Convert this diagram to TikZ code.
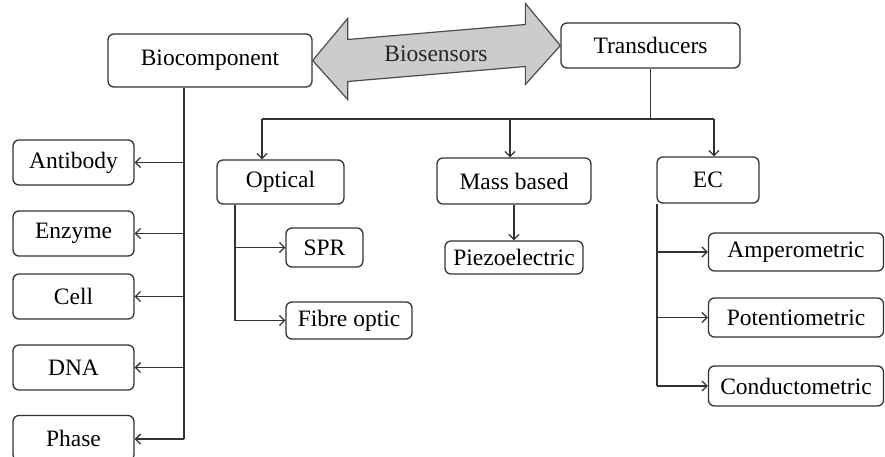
\documentclass[tikz,border=0pt]{standalone}
\usepackage{fontspec}
\setmainfont{Liberation Serif}
\newfontfamily\lserif{Liberation Serif}
\usetikzlibrary{arrows.meta,calc}
\begin{document}
\begin{tikzpicture}[x=1pt,y=-1pt,
  box/.style={draw=black!80, line width=1.3pt, rounded corners=6pt, inner sep=0pt,
    font=\lserif\fontsize{23.5}{26}\selectfont, text=black},
  conn/.style={draw=black!80, line width=1.3pt},
  arr/.style={conn, -{Straight Barb[length=5pt,width=10pt,line width=1.3pt]}}]
\useasboundingbox (0,0) rectangle (885,456);
% nodes
\node[box, minimum width=204, minimum height=53] (bio) at (210,60.5) {Biocomponent};
\node[box, minimum width=179, minimum height=45] (trans) at (650.5,45.5) {Transducers};
\node[box, minimum width=121, minimum height=45] (antibody) at (73.5,162.5) {Antibody};
\node[box, minimum width=121, minimum height=45] (enzyme) at (73.5,233.5) {Enzyme};
\node[box, minimum width=121, minimum height=45] (cell) at (73.5,296.5) {Cell};
\node[box, minimum width=121, minimum height=45] (dna) at (73.5,367.5) {DNA};
\node[box, minimum width=121, minimum height=45] (phase) at (73.5,438) {Phase};
\node[box, minimum width=127, minimum height=44] (opt) at (280.5,182) {Optical};
\node[box, minimum width=77, minimum height=39] (spr) at (324.5,247.5) {SPR};
\node[box, minimum width=126, minimum height=37] (fibre) at (349,320.5) {Fibre optic};
\node[box, minimum width=154, minimum height=46] (mass) at (514,181) {Mass based};
\node[box, minimum width=138, minimum height=33] (piezo) at (514,257.5) {Piezoelectric};
\node[box, minimum width=102, minimum height=46] (ec) at (708,180) {EC};
\node[box, minimum width=175, minimum height=38] (amp) at (796,252) {Amperometric};
\node[box, minimum width=175, minimum height=39] (pot) at (796,317.5) {Potentiometric};
\node[box, minimum width=175, minimum height=40] (cond) at (796,386) {Conductometric};
% double arrow
\filldraw[fill=black!20, draw=black!70, line width=1.2pt, line join=miter]
  (bio.east) -- ++(35,-42) -- ++(0,21) -- ($(trans.west)+(-35,-21)$) -- ++(0,-21)
  -- (trans.west) -- ++(-35,39) -- ++(0,-18) -- ($(bio.east)+(35,21)$) -- ++(0,18) -- cycle;
\node[font=\lserif\fontsize{23.5}{26}\selectfont, text=black!85] (bs) at (436,54) {Biosensors};
% biocomponent branch
\coordinate (bioTrunk) at (184,439);
\draw[conn] (bio.south -| bioTrunk) -- (bioTrunk);
\foreach \n in {antibody,enzyme,cell,dna}
  \draw[arr] (\n.east -| bioTrunk) -- (\n.east);
\draw[arr] (bioTrunk) -- (bioTrunk -| phase.east);
% transducer branch
\coordinate (busL) at (262,119);
\coordinate (busM) at (510,119);
\coordinate (busR) at (714,119);
\draw[conn] (trans.south) -- (trans.south |- busL);
\draw[conn] (busL) -- (busR);
\draw[arr] (busL) -- (busL |- opt.north);
\draw[arr] (busM) -- (busM |- mass.north);
\draw[arr] (busR) -- (busR |- ec.north);
\draw[arr] (mass) -- (piezo);
% optical
\coordinate (optTrunk) at (235,0);
\draw[conn] (opt.south -| optTrunk) -- (optTrunk |- fibre.west);
\draw[arr] (spr.west -| optTrunk) -- (spr.west);
\draw[arr] (fibre.west -| optTrunk) -- (fibre.west);
% EC
\coordinate (ecTrunk) at (657,0);
\draw[conn] (ec.south -| ecTrunk) -- (ecTrunk |- cond.west);
\foreach \n in {amp,pot,cond}
  \draw[arr] (\n.west -| ecTrunk) -- (\n.west);
\end{tikzpicture}
\end{document}
